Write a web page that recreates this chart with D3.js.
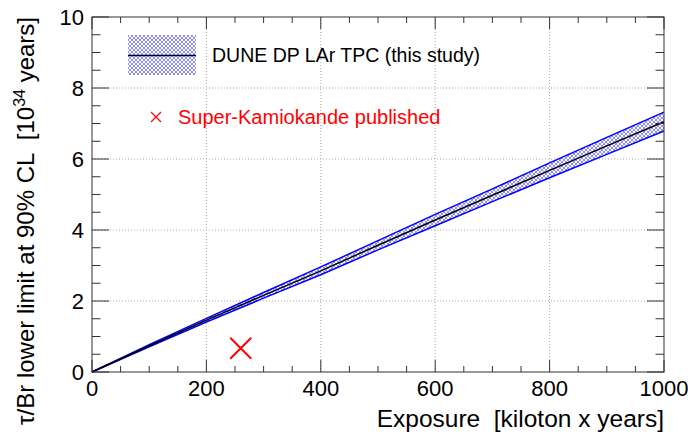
<!DOCTYPE html>
<html><head><meta charset="utf-8">
<script src="https://cdn.jsdelivr.net/npm/d3@7"></script>
<style>body{margin:0;background:#fff}svg{display:block;font-family:"Liberation Sans",Arial,sans-serif}text{white-space:pre}</style>
</head><body><svg id="c" width="688" height="437"></svg>
<script>
const exposure = [0,100,200,300,400,500,600,700,800,900,1000];
const central  = [0,0.74,1.46,2.16,2.85,3.57,4.28,4.98,5.68,6.37,7.05];
const upper    = [0,0.77,1.51,2.24,2.96,3.70,4.44,5.16,5.89,6.61,7.32];
const lower    = [0,0.71,1.41,2.08,2.74,3.44,4.12,4.80,5.47,6.13,6.79];
const skPoint  = {exposure:260, limit:0.67};
const xTicks = [0,200,400,600,800,1000];
const yTicks = [0,2,4,6,8,10];
const legendLabels = ["DUNE DP LAr TPC (this study)","Super-Kamiokande published"];

const svg = d3.select("#c");
const L=92,R=664,T=17,B=372;
const x = d3.scaleLinear().domain([0,1000]).range([L,R]);
const y = d3.scaleLinear().domain([0,10]).range([B,T]);

const defs = svg.append("defs");
const pat = defs.append("pattern").attr("id","hatch").attr("patternUnits","userSpaceOnUse").attr("width",4).attr("height",4);
pat.append("rect").attr("width",4).attr("height",4).attr("fill","#fff");
pat.append("path").attr("d","M0,0L4,4M4,0L0,4M-1,3L1,5M3,-1L5,1M-1,1L1,-1M3,5L5,3").attr("stroke","#7878ff").attr("stroke-width",0.85);

// grid
const grid = svg.append("g").attr("stroke","#aaa").attr("stroke-width",1).attr("stroke-dasharray","1,2");
xTicks.slice(1,-1).forEach(v=>grid.append("line").attr("x1",x(v)).attr("x2",x(v)).attr("y1",T).attr("y2",B));
yTicks.slice(1,-1).forEach(v=>grid.append("line").attr("x1",L).attr("x2",R).attr("y1",y(v)).attr("y2",y(v)));

// band
const data = exposure.map((e,i)=>({e,c:central[i],u:upper[i],l:lower[i]}));
svg.append("path").datum(data).attr("d",d3.area().x(d=>x(d.e)).y0(d=>y(d.l)).y1(d=>y(d.u))).attr("fill","url(#hatch)");
svg.append("path").datum(data).attr("d",d3.line().x(d=>x(d.e)).y(d=>y(d.u))).attr("fill","none").attr("stroke","#0000ff").attr("stroke-width",1.5);
svg.append("path").datum(data).attr("d",d3.line().x(d=>x(d.e)).y(d=>y(d.l))).attr("fill","none").attr("stroke","#0000ff").attr("stroke-width",1.5);
svg.append("path").datum(data).attr("d",d3.line().x(d=>x(d.e)).y(d=>y(d.c))).attr("fill","none").attr("stroke","#000").attr("stroke-width",1.5);

// SK marker
const sx=x(skPoint.exposure), sy=y(skPoint.limit), s=10.5;
svg.append("path").attr("d",`M${sx-s},${sy-s}L${sx+s},${sy+s}M${sx+s},${sy-s}L${sx-s},${sy+s}`).attr("stroke","#ff0000").attr("stroke-width",2).attr("fill","none");

// frame & ticks
const ax = svg.append("g").attr("stroke","#333").attr("stroke-width",1);
ax.append("rect").attr("x",L).attr("y",T).attr("width",R-L).attr("height",B-T).attr("fill","none");
const xMinor = d3.range(0,1001,50);
xMinor.forEach(v=>{const len = v%200===0?12:6; const px=x(v);
  ax.append("line").attr("x1",px).attr("x2",px).attr("y1",B).attr("y2",B-len);
  ax.append("line").attr("x1",px).attr("x2",px).attr("y1",T).attr("y2",T+len);});
const yMinor = d3.range(0,10.01,0.5);
yMinor.forEach(v=>{const len = Math.abs(v%2)<1e-6?17:8.5; const py=y(v);
  ax.append("line").attr("x1",L).attr("x2",L+len).attr("y1",py).attr("y2",py);
  ax.append("line").attr("x1",R).attr("x2",R-len).attr("y1",py).attr("y2",py);});

// tick labels
const tl = svg.append("g").attr("font-size",22).attr("fill","#000");
xTicks.forEach(v=>tl.append("text").attr("x",x(v)).attr("y",396).attr("text-anchor","middle").text(v));
yTicks.forEach(v=>tl.append("text").attr("x",84).attr("y",y(v)+8).attr("text-anchor","end").text(v));

// axis titles
svg.append("text").attr("x",R).attr("y",427).attr("text-anchor","end").attr("font-size",24.5).text("Exposure  [kiloton x years]");
const yt = svg.append("text").attr("transform",`translate(34,${T}) rotate(-90)`).attr("text-anchor","end").attr("font-size",24);
yt.append("tspan").text("τ/Br lower limit at 90% CL  [10");
yt.append("tspan").attr("font-size",16).attr("dy",-9).text("34");
yt.append("tspan").attr("dy",9).text(" years]");

// legend
svg.append("rect").attr("x",128).attr("y",35).attr("width",68).attr("height",40).attr("fill","url(#hatch)");
svg.append("line").attr("x1",128).attr("x2",196).attr("y1",55.5).attr("y2",55.5).attr("stroke","#000").attr("stroke-width",1.5);
svg.append("text").attr("x",212).attr("y",62).attr("font-size",19.5).text(legendLabels[0]);
const lx=156, ly=117, ls=5;
svg.append("path").attr("d",`M${lx-ls},${ly-ls}L${lx+ls},${ly+ls}M${lx+ls},${ly-ls}L${lx-ls},${ly+ls}`).attr("stroke","#ff0000").attr("stroke-width",1.2);
svg.append("text").attr("x",178).attr("y",124).attr("font-size",20).attr("fill","#ff0000").text(legendLabels[1]);
</script></body></html>
